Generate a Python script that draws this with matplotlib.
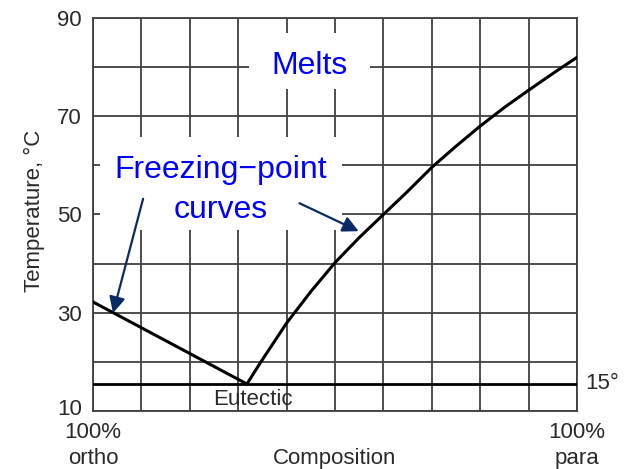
import matplotlib.pyplot as plt
from matplotlib.patches import Rectangle
import matplotlib.transforms as mtransforms

plt.rcParams['font.family'] = ['Liberation Sans', 'DejaVu Sans']

# freezing point curves (composition in %, temperature in degC)
ortho_x = [0, 31.8]
ortho_t = [32.2, 15.5]

para_x = [31.8, 34.7, 40, 45, 50, 55, 60, 65, 70, 75, 80, 85, 90, 95, 100]
para_t = [15.5, 20.0, 27.9, 34.3, 40.2, 45.3, 50.0, 54.7, 59.6, 63.9, 68.0, 71.8, 75.3, 78.7, 82.0]

eutectic_t = 15.5

x_ticks = list(range(0, 101, 10))
x_labels = ['100%\northo'] + [''] * 9 + ['100%\npara']
y_ticks = list(range(10, 91, 10))
y_labels = ['10', '', '30', '', '50', '', '70', '', '90']

grid_col = '#404040'
text_col = '#2a2a2a'
blue = '#0000ff'
navy = '#0a2a66'

fig = plt.figure(figsize=(6.3, 4.69), dpi=100)
ax = fig.add_axes([0.1476, 0.1237, 0.7683, 0.8379])

ax.set_xlim(0, 100)
ax.set_ylim(10, 90)
ax.set_xticks(x_ticks, labels=x_labels)
ax.set_yticks(y_ticks, labels=y_labels)
ax.tick_params(axis='both', length=0, labelsize=16, labelcolor=text_col)
ax.tick_params(axis='x', pad=8)
ax.tick_params(axis='y', pad=8)
for lab in ax.get_xticklabels():
    lab.set_linespacing(1.3)
# nudge the "10" up a little so it clears the "100%" below it
ax.get_yticklabels()[0].set_transform(
    ax.get_yaxis_transform(which='tick1') + mtransforms.ScaledTranslation(-8 / 72, 3 / 72, fig.dpi_scale_trans))
ax.set_axisbelow(True)
ax.grid(True, color=grid_col, lw=1.3)
for s in ax.spines.values():
    s.set_color(grid_col)
    s.set_linewidth(1.3)

# white boxes that hide the grid behind the labels
ax.add_patch(Rectangle((32.3, 75.5), 25.0, 11.5, facecolor='white', edgecolor='none', zorder=1))
ax.add_patch(Rectangle((1.45, 46.8), 49.9, 19.0, facecolor='white', edgecolor='none', zorder=1))

ax.plot(ortho_x, ortho_t, color='black', lw=2.2, zorder=3)
ax.plot(para_x, para_t, color='black', lw=2.2, zorder=3)
ax.axhline(eutectic_t, color='black', lw=2.0, zorder=3)

# labels
ax.text(44.8, 78.6, 'Melts', color=blue, fontsize=23, ha='center', va='baseline')
ax.text(26.3, 57.4, 'Freezing\u2212point', color=blue, fontsize=23, ha='center', va='baseline')
ax.text(26.3, 49.3, 'curves', color=blue, fontsize=23, ha='center', va='baseline')
ax.text(24.8, 11.2, 'Eutectic', color=text_col, fontsize=16, ha='left', va='baseline')

trans = mtransforms.blended_transform_factory(ax.transAxes, ax.transData)
ax.text(1.017, eutectic_t, '15°', color=text_col, fontsize=16, ha='left', va='center',
        transform=trans, clip_on=False)

ax.annotate('', xy=(4.14, 29.95), xytext=(10.35, 53.2),
            arrowprops=dict(arrowstyle='-|>', color=navy, lw=1.6, mutation_scale=24,
                            shrinkA=0, shrinkB=0), zorder=4)
ax.annotate('', xy=(54.9, 46.6), xytext=(42.65, 52.3),
            arrowprops=dict(arrowstyle='-|>', color=navy, lw=1.6, mutation_scale=24,
                            shrinkA=0, shrinkB=0), zorder=4)

ax.text(-0.12, 0.508, 'Temperature, °C', rotation=90, color=text_col, fontsize=16,
        ha='center', va='center', transform=ax.transAxes)
ax.text(0.5, -0.136, 'Composition', color=text_col, fontsize=16, ha='center',
        va='baseline', transform=ax.transAxes)

plt.savefig('out.png', dpi=100)
